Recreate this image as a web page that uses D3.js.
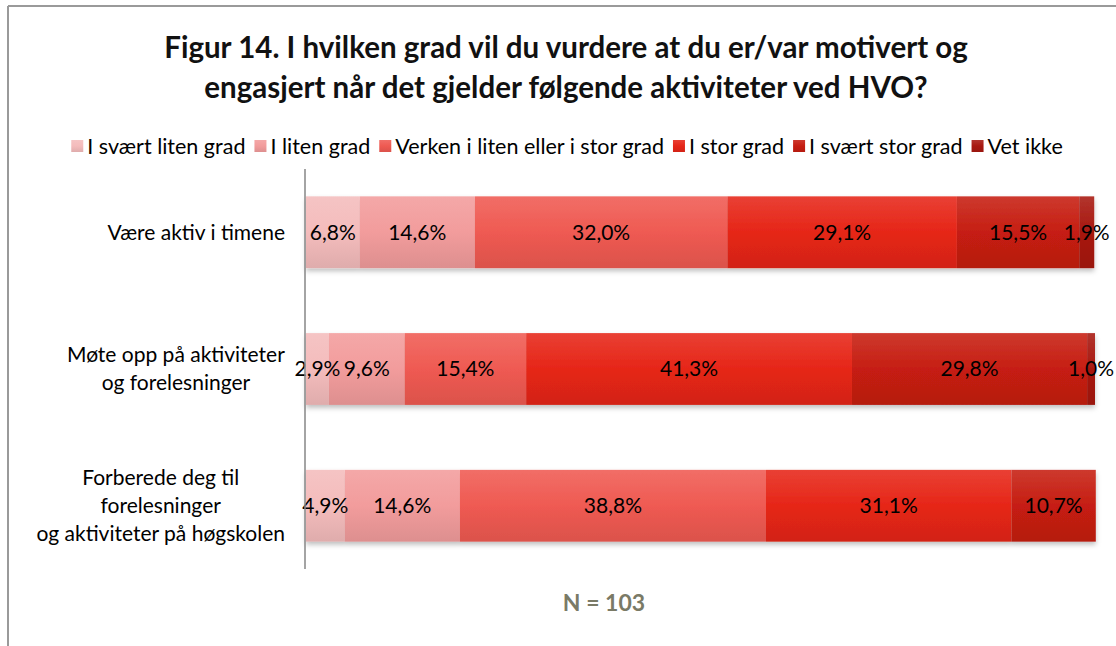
<!DOCTYPE html>
<html lang="no">
<head>
<meta charset="UTF-8">
<script src="https://d3js.org/d3.v7.min.js"></script>
<title>Figur 14</title>
<style>
  body { margin: 0; background: #fff; font-family: Lato, "Noto Sans", sans-serif; }
  svg { display: block; }
</style>
</head>
<body>
<svg id="chart" width="1116" height="646"></svg>
<script>
// data
const categories = [
  "Være aktiv i timene",
  "Møte opp på aktiviteter\nog forelesninger",
  "Forberede deg til\nforelesninger\nog aktiviteter på høgskolen"
];
const seriesNames = ["I svært liten grad", "I liten grad", "Verken i liten eller i stor grad",
                     "I stor grad", "I svært stor grad", "Vet ikke"];
const svaertLiten = [6.8, 2.9, 4.9];
const liten       = [14.6, 9.6, 14.6];
const verken      = [32.0, 15.4, 38.8];
const stor        = [29.1, 41.3, 31.1];
const svaertStor  = [15.5, 29.8, 10.7];
const vetIkke     = [1.9, 1.0, 0];
const seriesColors = ["#f4bcbc", "#f29c9c", "#ef5a52", "#e62618", "#c61e12", "#a81810"];

const values = [svaertLiten, liten, verken, stor, svaertStor, vetIkke];
const rows = categories.map((c, i) => {
  const r = { cat: c };
  seriesNames.forEach((s, j) => r[s] = values[j][i]);
  return r;
});

const W = 1116, H = 646;
const svg = d3.select("#chart");
const margin = { left: 306, right: 21, top: 169, bottom: 77 };

// frame
svg.append("line").attr("x1", 8).attr("x2", W).attr("y1", 6).attr("y2", 6)
  .attr("stroke", "#9a9a9a").attr("stroke-width", 2);
svg.append("line").attr("x1", 8).attr("x2", 8).attr("y1", 6).attr("y2", H)
  .attr("stroke", "#9a9a9a").attr("stroke-width", 2);

// title
const title = ["Figur 14. I hvilken grad vil du vurdere at du er/var motivert og",
               "engasjert når det gjelder følgende aktiviteter ved HVO?"];
svg.append("text").attr("text-anchor", "middle")
  .attr("font-weight", "bold").attr("font-size", 29.5).attr("fill", "#111")
  .selectAll("tspan").data(title).join("tspan")
  .attr("x", 566).attr("y", (d, i) => 58 + i * 40).text(d => d);

// gradients + shadow
const defs = svg.append("defs");
seriesColors.forEach((c, i) => {
  const g = defs.append("linearGradient").attr("id", "g" + i)
    .attr("x1", 0).attr("x2", 0).attr("y1", 0).attr("y2", 1);
  g.append("stop").attr("offset", "0%").attr("stop-color", d3.interpolateRgb(c, "#fff")(0.12));
  g.append("stop").attr("offset", "50%").attr("stop-color", c);
  g.append("stop").attr("offset", "100%").attr("stop-color", d3.color(c).darker(0.25));
});
const f = defs.append("filter").attr("id", "shadow")
  .attr("x", "-2%").attr("y", "-10%").attr("width", "104%").attr("height", "130%");
f.append("feDropShadow").attr("dx", 0).attr("dy", 3).attr("stdDeviation", 2.5)
  .attr("flood-color", "#000").attr("flood-opacity", 0.25);

// scales
const x = d3.scaleLinear().domain([0, 100]).range([margin.left, W - margin.right]);
const y = d3.scaleBand().domain(categories).range([margin.top, H - margin.bottom]).paddingInner(0.475).paddingOuter(0.2);

const stack = d3.stack().keys(seriesNames)(rows);

const barsG = svg.append("g").attr("filter", "url(#shadow)");
stack.forEach((layer, j) => {
  barsG.append("g").attr("fill", `url(#g${j})`)
    .selectAll("rect").data(layer).join("rect")
    .attr("x", d => x(d[0]))
    .attr("y", d => y(d.data.cat))
    .attr("width", d => x(d[1]) - x(d[0]))
    .attr("height", y.bandwidth());
});

// value labels
const fmt = v => v.toFixed(1).replace(".", ",") + "%";
stack.forEach(layer => {
  svg.append("g").attr("font-size", 21).attr("fill", "#000").attr("text-anchor", "middle")
    .selectAll("text").data(layer.filter(d => d[1] - d[0] > 0)).join("text")
    .attr("x", d => (x(d[0]) + x(d[1])) / 2)
    .attr("y", d => y(d.data.cat) + y.bandwidth() / 2)
    .attr("dy", "0.35em")
    .text(d => fmt(d[1] - d[0]));
});

// axis line
svg.append("line").attr("x1", 305).attr("x2", 305)
  .attr("y1", margin.top).attr("y2", H - margin.bottom)
  .attr("stroke", "#868686").attr("stroke-width", 1.5);

// category labels
const lineH = 28;
categories.forEach(c => {
  const lines = c.split("\n");
  const t = svg.append("text").attr("font-size", 21).attr("fill", "#000").attr("text-anchor", "middle");
  lines.forEach((l, i) => t.append("tspan").attr("x", 0)
    .attr("y", y(c) + y.bandwidth() / 2 + (i - (lines.length - 1) / 2) * lineH)
    .attr("dy", "0.35em").text(l));
  const bb = t.node().getBBox();
  t.attr("transform", `translate(${285 - bb.width / 2},0)`);
});

// legend
const legend = svg.append("g").attr("font-size", 21.5);
let lx = 0;
seriesNames.forEach((s, i) => {
  const it = legend.append("g").attr("transform", `translate(${lx},0)`);
  it.append("rect").attr("x", 0).attr("y", -6).attr("width", 12).attr("height", 12)
    .attr("fill", `url(#g${i})`);
  const t = it.append("text").attr("x", 16).attr("dy", "0.35em").text(s);
  lx += 16 + t.node().getComputedTextLength() + 9;
});
legend.attr("transform", `translate(${567 - (lx - 9) / 2},146)`);

// N
svg.append("text").attr("x", 604).attr("y", 603).attr("dy", "0.35em")
  .attr("text-anchor", "middle").attr("font-weight", "bold").attr("font-size", 23)
  .attr("fill", "#7a7a66").text("N = 103");
</script>
</body>
</html>
